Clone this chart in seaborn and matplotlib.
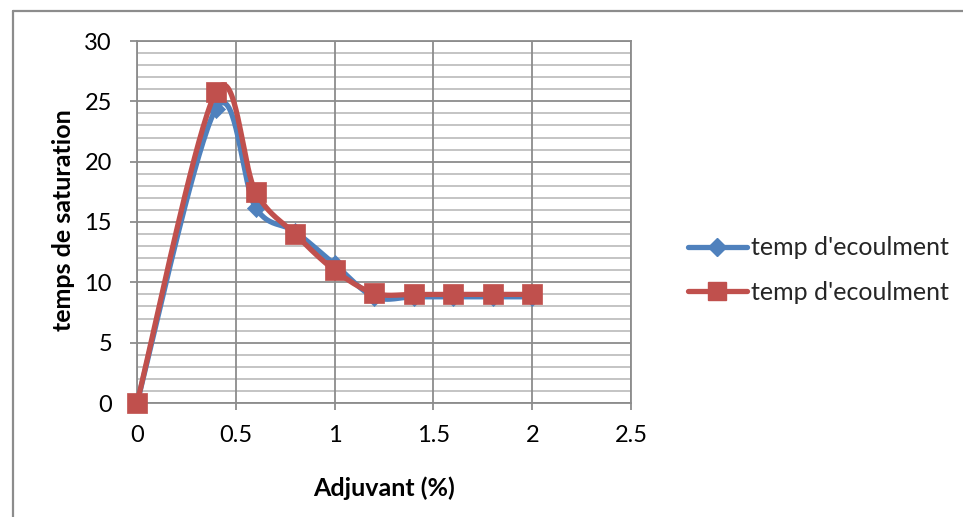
import numpy as np
import matplotlib
matplotlib.use("Agg")
import matplotlib.pyplot as plt
from matplotlib.lines import Line2D
import seaborn as sns
import pandas as pd

# ---- data ----
adjuvant = [0, 0.4, 0.6, 0.8, 1.0, 1.2, 1.4, 1.6, 1.8, 2.0]
serie_bleue = [0, 24.4, 16.2, 14.2, 11.5, 8.8, 8.8, 8.8, 8.8, 8.8]
serie_rouge = [0, 25.8, 17.5, 14.0, 11.0, 9.1, 9.0, 9.0, 9.0, 9.0]
series_names = ["temp d'ecoulment", "temp d'ecoulment"]
x_ticks = [0, 0.5, 1, 1.5, 2, 2.5]
y_ticks = [0, 5, 10, 15, 20, 25, 30]

BLUE = "#4F81BD"
RED = "#C0504D"
FONT = "Lato"


def smooth(xs, ys, n=40):
    """Excel-like smoothed line (Catmull-Rom style cubic Bezier)."""
    P = np.column_stack([xs, ys]).astype(float)
    P_ext = np.vstack([P[0], P, P[-1]])
    out = []
    t = np.linspace(0, 1, n)
    for i in range(len(P) - 1):
        p0, p1, p2, p3 = P_ext[i], P_ext[i + 1], P_ext[i + 2], P_ext[i + 3]
        c1 = p1 + (p2 - p0) / 6.0
        c2 = p2 - (p3 - p1) / 6.0
        seg = ((1 - t) ** 3)[:, None] * p1 + (3 * t * (1 - t) ** 2)[:, None] * c1 \
            + (3 * t ** 2 * (1 - t))[:, None] * c2 + (t ** 3)[:, None] * p2
        out.append(seg if i == 0 else seg[1:])
    out = np.vstack(out)
    return out[:, 0], out[:, 1]


sns.set_theme(style="white")
plt.rcParams["font.family"] = [FONT, "DejaVu Sans"]

fig = plt.figure(figsize=(9.63, 5.17), dpi=100)
ax = fig.add_axes([137 / 963, 1 - 403 / 517, (631 - 137) / 963, (403 - 41) / 517])

LW = 3.8
# smoothed curves
bx, by = smooth(adjuvant, serie_bleue)
rx, ry = smooth(adjuvant, serie_rouge)
df_b = pd.DataFrame({"x": bx, "y": by})
df_r = pd.DataFrame({"x": rx, "y": ry})
sns.lineplot(data=df_b, x="x", y="y", sort=False, estimator=None, ax=ax,
             color=BLUE, linewidth=LW, zorder=3, clip_on=False)
sns.lineplot(data=df_r, x="x", y="y", sort=False, estimator=None, ax=ax,
             color=RED, linewidth=LW, zorder=5, clip_on=False)
# markers
sns.scatterplot(x=adjuvant, y=serie_bleue, ax=ax, marker="D", s=85, color=BLUE,
                edgecolor=BLUE, linewidth=0.5, zorder=4, clip_on=False)
sns.scatterplot(x=adjuvant, y=serie_rouge, ax=ax, marker="s", s=190, color=RED,
                edgecolor=RED, linewidth=0.5, zorder=6, clip_on=False)

ax.set_xlim(0, 2.5)
ax.set_ylim(0, 30)
ax.set_xticks(x_ticks)
ax.set_xticklabels([f"{v:g}" for v in x_ticks])
ax.set_yticks(y_ticks)
ax.set_yticklabels([f"{v:g}" for v in y_ticks])
ax.set_yticks(np.arange(0, 31, 1), minor=True)

ax.grid(False)
for v in np.arange(0, 31, 1):
    if v % 5 != 0:
        ax.axhline(v, color="#BFBFBF", lw=1.3, zorder=1)
for v in y_ticks:
    ax.axhline(v, color="#8C8C8C", lw=1.3, zorder=1.5)
for v in x_ticks:
    ax.axvline(v, color="#8C8C8C", lw=1.3, zorder=1.5)

for s in ax.spines.values():
    s.set_color("#8C8C8C")
    s.set_linewidth(1.3)

ax.tick_params(axis="both", which="major", direction="out", length=5, width=1.3,
               color="#8C8C8C", labelsize=17, labelcolor="black")
ax.tick_params(axis="x", which="major", pad=11, bottom=True)
ax.tick_params(axis="y", which="major", pad=13, left=True)
ax.tick_params(axis="both", which="minor", length=0)

ax.set_xlabel("Adjuvant (%)", fontsize=18, fontweight="bold", color="black")
ax.set_ylabel("temps de saturation", fontsize=18, fontweight="bold", color="black")
ax.xaxis.label.set_va("center")
ax.yaxis.label.set_va("center")
ax.xaxis.set_label_coords(0.5, -0.235)
ax.yaxis.set_label_coords(-0.148, 0.505)

handles = [
    Line2D([], [], color=BLUE, lw=LW, marker="D", markersize=9, markeredgecolor=BLUE),
    Line2D([], [], color=RED, lw=LW, marker="s", markersize=13, markeredgecolor=RED),
]
leg = fig.legend(handles, series_names, loc="center left",
                 bbox_to_anchor=(688 / 963, 1 - 270 / 517), frameon=False,
                 fontsize=18, handlelength=2.35, handletextpad=0.15,
                 labelspacing=0.85, borderpad=0, borderaxespad=0)

# outer chart frame (only top and left edges visible)
fig.add_artist(Line2D([13 / 963, 13 / 963], [1 - 11 / 517, 0], color="#8C8C8C",
                      lw=1.6, transform=fig.transFigure))
fig.add_artist(Line2D([13 / 963, 1], [1 - 11 / 517, 1 - 11 / 517], color="#8C8C8C",
                      lw=1.6, transform=fig.transFigure))

fig.savefig("out.png", dpi=100, facecolor="white")
